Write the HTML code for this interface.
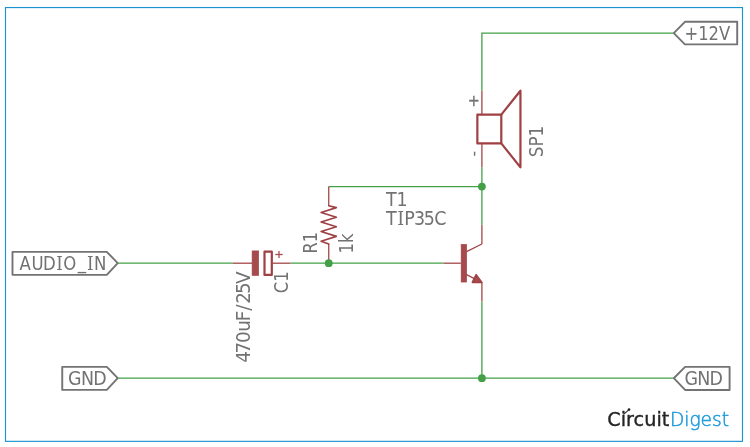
<!DOCTYPE html>
<html lang="en">
<head>
<meta charset="utf-8">
<title>Audio Amplifier Circuit - CircuitDigest</title>
<style>
  html, body { margin: 0; padding: 0; background: #ffffff; }
  body { width: 750px; height: 447px; overflow: hidden; }
  svg { display: block; will-change: transform; opacity: 0.9999; }
  .lbl { font-family: "DejaVu Sans Condensed", "DejaVu Sans", "Liberation Sans", sans-serif; font-size: 19.4px; fill: #727272; }
  .net { stroke: #43a047; stroke-width: 1.3; fill: none; stroke-linecap: butt; }
  .pin { stroke: #a34649; stroke-width: 1.3; fill: none; }
  .sym { stroke: #9f4043; stroke-width: 2.2; fill: none; stroke-linejoin: round; stroke-linecap: round; }
  .symfill { fill: #a54b4d; stroke: #a04346; stroke-width: 0.6; }
  .tag { stroke: #737373; stroke-width: 1.9; fill: #ffffff; stroke-linejoin: round; }
  .si { font-family: "DejaVu Serif Condensed", "DejaVu Serif", "Liberation Serif", serif; }
  .dot { fill: #43a047; }
  .logo { font-family: "DejaVu Sans", "Liberation Sans", sans-serif; font-size: 19px; }
</style>
</head>
<body>
<svg width="750" height="447" viewBox="0 0 750 447">
  <rect x="0" y="0" width="750" height="447" fill="#ffffff"/>
  <!-- frame -->
  <rect x="5.5" y="7.55" width="737" height="433.8" fill="none" stroke="#1b93cf" stroke-width="1.15"/>

  <!-- nets (green wires) -->
  <g class="net">
    <polyline points="673.35,33.2 481.9,33.2 481.9,90.7"/>
    <line x1="481.9" y1="167.37" x2="481.9" y2="224.87"/>
    <line x1="328.74" y1="186.54" x2="481.9" y2="186.54"/>
    <line x1="118.14" y1="263.2" x2="233.01" y2="263.2"/>
    <line x1="290.45" y1="263.2" x2="443.61" y2="263.2"/>
    <line x1="481.9" y1="301.54" x2="481.9" y2="378.21"/>
    <line x1="118.14" y1="378.21" x2="673.35" y2="378.21"/>
  </g>

  <!-- pins (thin red) -->
  <g class="pin">
    <line x1="481.9" y1="90.7" x2="481.9" y2="114.66"/>
    <line x1="481.9" y1="143.42" x2="481.9" y2="167.37"/>
    <line x1="328.74" y1="186.54" x2="328.74" y2="205.70"/>
    <line x1="328.74" y1="244.04" x2="328.74" y2="263.2"/>
    <line x1="233.01" y1="263.2" x2="252" y2="263.2"/>
    <line x1="272.6" y1="263.2" x2="290.45" y2="263.2"/>
    <line x1="443.61" y1="263.2" x2="460.84" y2="263.2"/>
    <line x1="481.9" y1="224.87" x2="481.9" y2="244.03"/>
    <line x1="481.9" y1="282.37" x2="481.9" y2="301.54"/>
    <!-- transistor collector / emitter leads -->
    <line x1="481.9" y1="244.03" x2="466.58" y2="251.70"/>
    <line x1="465.07" y1="273.95" x2="474.36" y2="278.59"/>
  </g>

  <!-- speaker SP1 -->
  <g class="sym">
    <rect x="477.36" y="114.66" width="23.93" height="28.75"/>
    <polyline points="501.29,114.66 520.44,90.7 520.44,167.37 501.29,143.42"/>
  </g>

  <!-- resistor R1 -->
  <polyline class="sym" style="stroke-width:1.6" points="328.74,205.70 336.40,207.62 321.08,212.41 336.40,217.20 321.08,221.99 336.40,226.79 321.08,231.58 336.40,236.37 321.08,241.16 328.74,244.04"/>

  <!-- capacitor C1 -->
  <rect class="symfill" x="252.1" y="250.90" width="6.6" height="24.6"/>
  <rect class="sym" x="264.5" y="251.70" width="7.3" height="23.2"/>
  <g stroke="#a64e51" stroke-width="1.3" fill="none">
    <line x1="275.3" y1="254.5" x2="282.7" y2="254.5"/>
    <line x1="279" y1="250.9" x2="279" y2="258.1"/>
  </g>

  <!-- transistor T1 -->
  <rect class="symfill" x="461.14" y="244.33" width="5.54" height="37.73"/>
  <polygon class="symfill" points="481.9,282.37 472.32,282.37 476.15,274.70" stroke-linejoin="round" style="stroke-width:1.6"/>

  <!-- junctions -->
  <circle class="dot" cx="481.9" cy="186.54" r="3.9"/>
  <circle class="dot" cx="328.74" cy="263.2" r="3.9"/>
  <circle class="dot" cx="481.9" cy="378.21" r="3.9"/>

  <!-- net label tags -->
  <polygon class="tag" points="12.5,251.85 106.8,251.85 117.74,263.2 106.8,274.85 12.5,274.85"/>
  <polygon class="tag" points="62.25,366.85 106.8,366.85 117.74,378.21 106.8,389.9 62.25,389.9"/>
  <polygon class="tag" points="673.80,33.2 684.9,21.8 737.2,21.8 737.2,44.4 684.9,44.4"/>
  <polygon class="tag" points="673.80,378.21 685.1,366.9 729.6,366.9 729.6,389.95 685.1,389.95"/>

  <!-- text labels -->
  <g class="lbl">
    <text transform="translate(0,269.7) scale(0.95,1)" x="20.56 33.19 45.36 59.29 66.6 81.74 91.71 98.95" y="0 0 0 0 0 -1 0 0">AUD<tspan class="si">I</tspan>O_<tspan class="si">I</tspan>N</text>
    <text y="385.2" x="68.01 80.92 93.14">GND</text>
    <text x="684.4" y="39.6" textLength="45.8" lengthAdjust="spacingAndGlyphs">+12V</text>
    <text y="385.2" x="684.41 697.32 709.54">GND</text>
    <text y="205.8" x="385.96 396.49">T1</text>
    <text transform="translate(0,224.6) scale(1.0,1)" x="385.96 397.25 404.18 414.08 423.63 434.19">T<tspan class="si">I</tspan>P35C</text>
    <text transform="translate(543.4,157.2) rotate(-90)" textLength="31.5" lengthAdjust="spacingAndGlyphs">SP1</text>
    <text transform="translate(288.2,293.2) rotate(-90)" textLength="21.8" lengthAdjust="spacingAndGlyphs">C1</text>
    <text transform="translate(249.5,361.5) rotate(-90) scale(1.05,1)" x="-1.3 7.62 17.69 28.42 38.44 48.39 55.06 64.25 73.84">470uF/25V</text>
    <text transform="translate(317.4,253.5) rotate(-90)" textLength="21.5" lengthAdjust="spacingAndGlyphs">R1</text>
    <text transform="translate(352.9,253.5) rotate(-90)" textLength="20" lengthAdjust="spacingAndGlyphs">1k</text>
    <text x="473.8" y="106.4" text-anchor="middle" style="font-size:16px;stroke:#727272;stroke-width:0.3">+</text>
    <text transform="translate(478.7,153.7) rotate(-90)" text-anchor="middle" style="font-size:17px">-</text>
  </g>

  <!-- CircuitDigest logo -->
  <g class="logo">
    <text x="607.3" y="426.4" fill="#242424" stroke="#242424" stroke-width="0.35" textLength="62" lengthAdjust="spacingAndGlyphs">Circuit</text>
    <text x="669.9" y="426.4" fill="#1e9bdc" stroke="#1e9bdc" stroke-width="0.55" font-weight="200" textLength="59.2" lengthAdjust="spacingAndGlyphs">Digest</text>
    <line x1="623.8" y1="414.1" x2="628.8" y2="409.8" stroke="#242424" stroke-width="1.1" stroke-linecap="round"/>
    <circle cx="629" cy="409.6" r="1.35" fill="#242424"/>
  </g>
</svg>
</body>
</html>
